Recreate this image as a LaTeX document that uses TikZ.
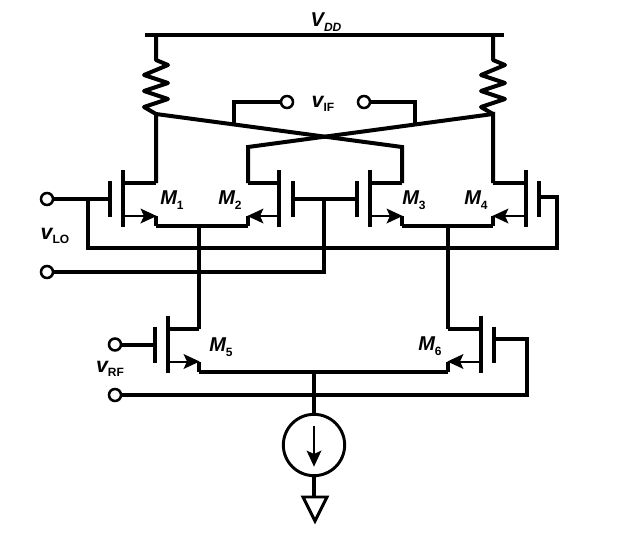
\documentclass[tikz,border=0pt]{standalone}
\usepackage{fontspec}
\setmainfont{Liberation Sans}
\usetikzlibrary{arrows.meta}
\newcommand{\lowtxt}[1]{\raisebox{-3.5pt}{\fontsize{9}{9}\selectfont #1}}
\tikzstyle{wire} = [line width=3pt, line join=miter]
\tikzstyle{thinwire} = [line width=1.5pt, -{Stealth[length=12pt,width=11pt,inset=2.5pt]}, shorten >=-0.5pt]
\tikzstyle{term} = [draw, circle, line width=1.9pt, inner sep=0pt, minimum size=9pt, fill=white]
\tikzstyle{devname} = [inner sep=0pt, font=\fontsize{15}{15}\selectfont\bfseries\itshape]
\tikzstyle{sigvolt} = [inner sep=0pt, font=\fontsize{16}{16}\selectfont\bfseries\itshape]

\begin{document}
\begin{tikzpicture}[x=0.75pt, y=-0.75pt, wire]
  \useasboundingbox (0,0) rectangle (618,540);
  % supply rail and the two loads
  \coordinate (railL) at (145,35);
  \coordinate (railR) at (504,35);
  \coordinate (r1) at (156,35);
  \coordinate (r2) at (493,35);
  \coordinate (out1) at (156,114);
  \coordinate (out2) at (493,114);
  \node[devname] (vdd) at (326,22) {V\lowtxt{DD}};
  \draw (railL) -- (railR);
  \foreach \r/\o in {r1/out1, r2/out2} {
    \draw[line join=round] (\r) -- ++(0,25) -- ++(12,5) -- ++(-24,10) -- ++(24,8) -- ++(-24,8)
      -- ++(24,8) -- ++(-24,8) -- ++(12,7) -- (\o);
  }
  % transistors: number / channel / drain / gate bar / centre
  \foreach \n/\c/\d/\g/\y in {1/123/156/110/199, 2/279/248/293/199, 3/370/402/357/199,
      4/526/493/539/199, 5/168/199/155/344.5, 6/481/448/494/344.5} {
    \coordinate (M\n d) at (\d,\y-16);
    \coordinate (M\n s) at (\d,\y+17);
    \coordinate (M\n b) at (\d,\y+27);
    \coordinate (M\n g) at (\g,\y);
    \draw (\c,\y-29) -- (\c,\y+28);
    \draw (\g,\y-18) -- (\g,\y+18);
    \draw (\c,\y-16) -- (M\n d);
    \draw[thinwire] (\c,\y+17) -- (M\n s);
    \draw (M\n s) -- (M\n b);
  }
  \node[devname] (m1) at (172,200) {M\lowtxt{\upshape 1}};
  \node[devname] (m2) at (230,200) {M\lowtxt{\upshape 2}};
  \node[devname] (m3) at (414,200) {M\lowtxt{\upshape 3}};
  \node[devname] (m4) at (476,200) {M\lowtxt{\upshape 4}};
  \node[devname] (m5) at (221,347) {M\lowtxt{\upshape 5}};
  \node[devname] (m6) at (430,346) {M\lowtxt{\upshape 6}};
  % cross coupled outputs
  \coordinate (top2) at (248,147);
  \coordinate (top3) at (402,147);
  \draw (M1d) -- (out1) -- (top3) -- (M3d);
  \draw (M4d) -- (out2) -- (top2) -- (M2d);
  % IF port
  \node[term] (if1) at (287,102) {};
  \node[term] (if2) at (364,102) {};
  \coordinate (tap1) at (234,125);
  \coordinate (tap2) at (415,125);
  \node[sigvolt] (vif) at (323,104) {v\lowtxt{\upshape IF}};
  \draw (if1) -| (tap1);
  \draw (if2) -| (tap2);
  % LO port
  \node[term] (lo1) at (47,199) {};
  \node[term] (lo2) at (47,272) {};
  \node[sigvolt] (vlo) at (55,236) {v\lowtxt{\upshape LO}};
  \coordinate (loa) at (88,199);
  \coordinate (lob) at (88,248);
  \coordinate (loc) at (557,248);
  \coordinate (lod) at (557,197);
  \coordinate (loe) at (324,199);
  \coordinate (lof) at (324,272);
  \draw (lo1) -- (M1g);
  \draw (M4g |- lod) -- (lod) -- (loc) -- (lob) -- (loa);
  \draw (M2g) -- (M3g);
  \draw (loe) -- (lof) -- (lo2);
  % tails of the two pairs
  \draw (M1b) -- (M2b);
  \draw (M3b) -- (M4b);
  \coordinate (tail1) at (199,226);
  \coordinate (tail2) at (448,226);
  \draw (tail1) -- (M5d);
  \draw (tail2) -- (M6d);
  % RF port
  \node[term] (rf1) at (115,344.5) {};
  \node[term] (rf2) at (115,395) {};
  \node[sigvolt] (vrf) at (110,369) {v\lowtxt{\upshape RF}};
  \coordinate (rfa) at (527,339);
  \coordinate (rfb) at (527,395);
  \draw (rf1) -- (M5g);
  \draw (M6g |- rfa) -- (rfa) -- (rfb) -- (rf2);
  \draw (M5b) -- (M6b);
  % current source and ground
  \coordinate (tail3) at (314,372);
  \node[draw, circle, line width=2.2pt, inner sep=0pt, minimum size=46pt] (cs) at (314,445) {};
  \coordinate (csa) at (314,426);
  \coordinate (csb) at (314,466);
  \coordinate (gndT) at (314,497);
  \coordinate (gndL) at (303,497);
  \coordinate (gndR) at (327,497);
  \coordinate (gndA) at (315,521);
  \draw (tail3) -- (cs);
  \draw (cs) -- (gndT);
  \draw[line width=2.2pt] (gndL) -- (gndR) -- (gndA) -- cycle;
  \draw[thinwire] (csa) -- (csb);
\end{tikzpicture}
\end{document}
